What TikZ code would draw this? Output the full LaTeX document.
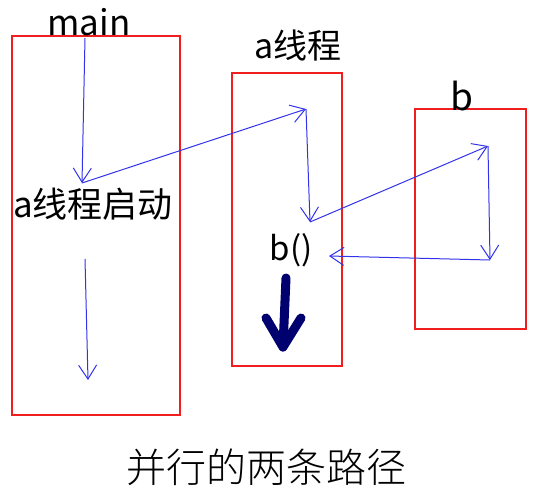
\documentclass[tikz,border=0pt]{standalone}
\usepackage{fontspec}
\setmainfont{Noto Sans CJK SC}
\newfontfamily\capfont{Noto Sans CJK SC Light}
\usetikzlibrary{arrows.meta}
\definecolor{boxred}{RGB}{240,30,30}
\definecolor{flowblue}{RGB}{50,50,235}
\definecolor{darknavy}{RGB}{0,0,110}
\tikzset{
  redbox/.style={draw=boxred, line width=2.5pt, inner sep=0pt},
  flow/.style={draw=flowblue, line width=1pt, -{Straight Barb[length=14pt,width=18pt,line width=1pt]}},
  lbl/.style={anchor=base, inner sep=0pt, text=black},
  navyline/.style={draw=darknavy, line width=9pt, line cap=round, line join=round},
}
\begin{document}
\begin{tikzpicture}[x=1pt,y=-1pt]
\useasboundingbox (0,0) rectangle (536,499);
% boxes
\node[redbox, minimum width=168pt, minimum height=379pt] (mainbox) at (96,225.5) {};
\node[redbox, minimum width=110pt, minimum height=293pt] (abox) at (287,219.5) {};
\node[redbox, minimum width=111pt, minimum height=220pt] (bbox) at (470.5,219) {};
% labels
\node[lbl, font=\fontsize{35}{35}\selectfont] (mainlbl) at (89,35) {main};
\node[lbl, font=\fontsize{34}{34}\selectfont] (albl) at (298,58) {a线程};
\node[lbl, font=\fontsize{37}{37}\selectfont] (blbl) at (462,110) {b};
\node[lbl, font=\fontsize{35}{35}\selectfont] (astart) at (93,217) {a线程启动};
\node[lbl, font=\fontsize{33}{33}\selectfont] (bcall) at (291,260) {b()};
\node[lbl, font=\capfont\fontsize{40}{40}\selectfont] (caption) at (266,482) {并行的两条路径};
% flow points
\coordinate (m0) at (85,38);
\coordinate (m1) at (82,183);
\coordinate (a0) at (306,109);
\coordinate (a1) at (310,222);
\coordinate (b0) at (488,146);
\coordinate (b1) at (490,260);
\coordinate (ret) at (329,256);
\coordinate (m2) at (85,259);
\coordinate (m3) at (88,380);
\draw[flow] (m0) -- (m1);
\draw[flow] (m1) -- (a0);
\draw[flow] (a0) -- (a1);
\draw[flow] (a1) -- (b0);
\draw[flow] (b0) -- (b1);
\draw[flow] (b1) -- (ret);
\draw[flow] (m2) -- (m3);
% thick arrow
\coordinate (t0) at (286,278);
\coordinate (t1) at (283,347);
\coordinate (tl) at (266,318);
\coordinate (tr) at (301,318);
\draw[navyline] (t0) -- (t1);
\draw[navyline] (tl) -- (t1) -- (tr);
\end{tikzpicture}
\end{document}
